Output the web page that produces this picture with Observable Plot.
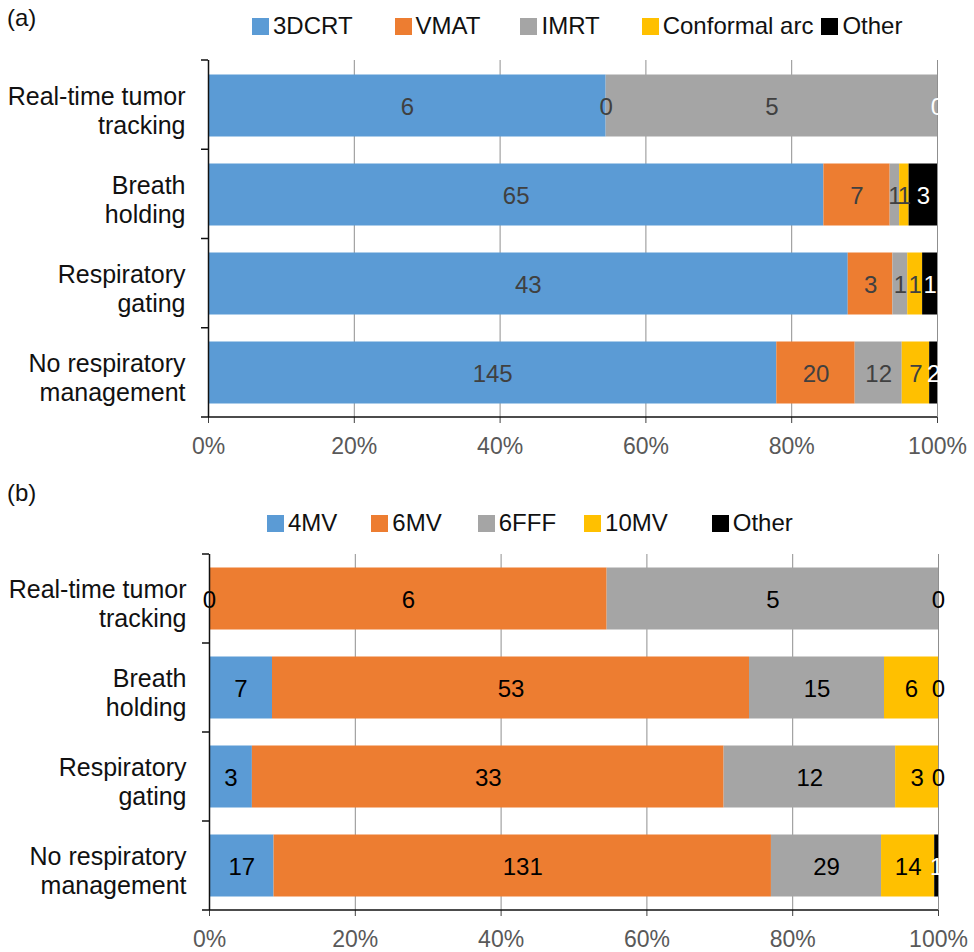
<!DOCTYPE html>
<html>
<head>
<meta charset="utf-8">
<script src="https://cdn.jsdelivr.net/npm/d3@7"></script>
<script src="https://cdn.jsdelivr.net/npm/@observablehq/plot@0.6"></script>
<style>
  html, body { margin: 0; padding: 0; background: #fff; }
  body { width: 974px; height: 952px; position: relative; overflow: hidden;
         font-family: "Liberation Sans", Arial, Helvetica, sans-serif; }
  .panel-label { position: absolute; left: 7px; font-size: 24px; color: #111; }
  .legend { position: absolute; display: flex; align-items: center; font-size: 24px; color: #111; }
  .legend .item { display: flex; align-items: center; }
  .legend .sw { width: 17px; height: 17px; margin-right: 4px; }
  .plot { position: absolute; left: 0; }
</style>
</head>
<body>
<div class="panel-label" style="top:4px">(a)</div>
<div id="legA" class="legend" style="top:12px; left:252px"></div>
<div id="plotA" class="plot" style="top:40px"></div>

<div class="panel-label" style="top:479px">(b)</div>
<div id="legB" class="legend" style="top:509px; left:267px"></div>
<div id="plotB" class="plot" style="top:530px"></div>

<script>
// ---------- data ----------
const categories = ["Real-time tumor tracking", "Breath holding", "Respiratory gating", "No respiratory management"];
const categoryLabels = ["Real-time tumor\ntracking", "Breath\nholding", "Respiratory\ngating", "No respiratory\nmanagement"];
const percentTicks = [0, 0.2, 0.4, 0.6, 0.8, 1];

// (a) treatment technique
const techniques = ["3DCRT", "VMAT", "IMRT", "Conformal arc", "Other"];
const techColors = ["#5B9BD5", "#ED7D31", "#A5A5A5", "#FFC000", "#000000"];
const tech3DCRT = [6, 65, 43, 145];
const techVMAT = [0, 7, 3, 20];
const techIMRT = [5, 1, 1, 12];
const techConformalArc = [null, 1, 1, 7];
const techOther = [0, 3, 1, 2];

// (b) beam energy
const energies = ["4MV", "6MV", "6FFF", "10MV", "Other"];
const energyColors = ["#5B9BD5", "#ED7D31", "#A5A5A5", "#FFC000", "#000000"];
const energy4MV = [0, 7, 3, 17];
const energy6MV = [6, 53, 33, 131];
const energy6FFF = [5, 15, 12, 29];
const energy10MV = [null, 6, 3, 14];
const energyOther = [0, 0, 0, 1];

// ---------- helpers ----------
function buildRows(series, arrays) {
  const rows = [];
  categories.forEach((cat, i) => {
    const total = d3.sum(arrays, a => a[i] || 0);
    let cum = 0;
    series.forEach((s, j) => {
      const v = arrays[j][i];
      if (v == null) return;
      const x1 = cum / total;
      cum += v;
      const x2 = cum / total;
      rows.push({cat, series: s, value: v, x1, x2, mid: (x1 + x2) / 2});
    });
  });
  return rows;
}

function legend(el, series, colors, gaps) {
  series.forEach((s, i) => {
    const it = document.createElement("div");
    it.className = "item";
    if (i > 0) it.style.marginLeft = gaps[i - 1] + "px";
    it.innerHTML = `<div class="sw" style="background:${colors[i]}"></div><span>${s}</span>`;
    el.appendChild(it);
  });
}

function panel(el, series, arrays, colors, isWhite, darkColor, opts) {
  const rows = buildRows(series, arrays);
  const dark = rows.filter(d => !isWhite(d));
  const white = rows.filter(d => isWhite(d));
  const H = 420;
  const plot = Plot.plot({
    width: 974,
    height: H,
    marginLeft: opts.ml,
    marginRight: 974 - opts.ml - 729,
    marginTop: opts.mt,
    marginBottom: opts.mb,
    style: {fontFamily: "Liberation Sans, Arial, Helvetica, sans-serif", background: "transparent", overflow: "visible"},
    x: {domain: [0, 1], label: null},
    y: {domain: categories, padding: 0, label: null},
    color: {domain: series, range: colors},
    marks: [
      Plot.ruleX(percentTicks.slice(1), {stroke: "#8f8f8f", strokeWidth: 1}),
      Plot.barX(rows, {x1: "x1", x2: "x2", y: "cat", fill: "series", insetTop: 13.5, insetBottom: 13.5}),
      Plot.text(dark, {x: "mid", y: "cat", text: d => String(d.value), fill: darkColor, fontSize: 24, dy: 1}),
      Plot.text(white, {x: "mid", y: "cat", text: d => String(d.value), fill: "#ffffff", fontSize: 24, dy: 1}),
      Plot.ruleX([0], {stroke: "#111", strokeWidth: 1.5}),
      Plot.axisX({ticks: percentTicks, tickFormat: d3.format(".0%"), tickSize: 6, tickPadding: 14,
                  fontSize: 23, color: "#595959", stroke: "#404040", label: null}),
      Plot.axisY({tickSize: 0, tickPadding: 23, fontSize: 25, lineHeight: 1.17, fill: "#111", dy: 4, label: null,
                  tickFormat: d => categoryLabels[categories.indexOf(d)]})
    ]
  });
  el.appendChild(plot);
  // axis line along the bottom and category boundary ticks, from the plot's own scales
  const xs = plot.scale("x"), ys = plot.scale("y");
  const svg = d3.select(plot);
  const [yTop, yBot] = ys.range;
  const step = (yBot - yTop) / categories.length;
  svg.append("line").attr("x1", xs.apply(0)).attr("x2", xs.apply(1))
     .attr("y1", yBot).attr("y2", yBot).attr("stroke", "#111").attr("stroke-width", 1.5);
  d3.range(categories.length + 1).forEach(i => {
    const y = yTop + i * step;
    svg.append("line").attr("x1", xs.apply(0) - 7).attr("x2", xs.apply(0))
       .attr("y1", y).attr("y2", y).attr("stroke", "#111").attr("stroke-width", 1.5);
  });
}

legend(document.getElementById("legA"), techniques, techColors, [42, 40, 42, 8]);
legend(document.getElementById("legB"), energies, energyColors, [34, 36, 28, 44]);

panel(document.getElementById("plotA"), techniques,
      [tech3DCRT, techVMAT, techIMRT, techConformalArc, techOther], techColors,
      d => d.series === "Other", "#404040", {ml: 208, mt: 20, mb: 43});

panel(document.getElementById("plotB"), energies,
      [energy4MV, energy6MV, energy6FFF, energy10MV, energyOther], energyColors,
      d => d.series === "Other" && d.value > 0, "#000000", {ml: 209, mt: 24, mb: 40});
</script>
</body>
</html>
